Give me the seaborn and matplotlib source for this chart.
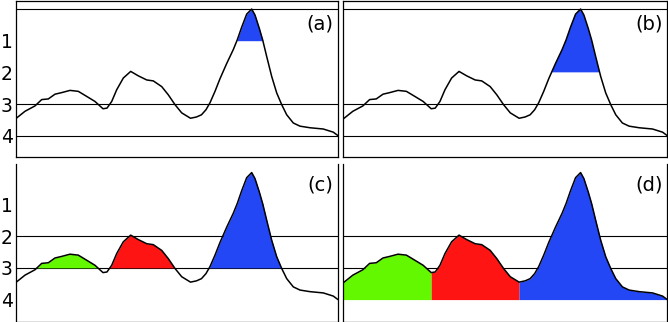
import numpy as np
import pandas as pd
import seaborn as sns
import matplotlib.pyplot as plt

# profile (x in panel pixels, y in level units, 0 = top)
pos = [0, 9.5, 19.5, 26.2, 32.8, 39.5, 46.2, 54.5, 62.8, 71.2, 79.5, 87.5,
       91.5, 96.2, 101.2, 107.8, 115.2, 122.8, 131.2, 137.8, 146.2, 152.8,
       159.5, 166.2, 175.0, 181.0, 186.0, 190.5, 194.5, 199.5, 204.5, 211.2,
       217.8, 221.8, 226.2, 231.2, 236.2, 239.5, 243.8, 247.2, 251.2, 256.2,
       261.2, 266.2, 271.2, 277.8, 284.5, 294.5, 307.8, 317.8, 322.5]
level = [3.47, 3.23, 3.06, 2.86, 2.84, 2.69, 2.64, 2.57, 2.60, 2.76, 2.92, 3.15,
         3.13, 2.92, 2.55, 2.18, 1.97, 2.11, 2.24, 2.27, 2.45, 2.71,
         3.02, 3.28, 3.45, 3.41, 3.34, 3.18, 2.96, 2.60, 2.20, 1.72,
         1.28, 0.97, 0.57, 0.16, 0.00, 0.19, 0.61, 0.98, 1.50, 2.13,
         2.65, 3.02, 3.34, 3.60, 3.70, 3.75, 3.79, 3.89, 4.00]

tick_levels = [1, 2, 3, 4]
basin_splits = [87.5, 175.0]          # the two minima between the hills
basin_colors = ['#63f700', '#ff1414', '#2447f5']

panels = ['(a)', '(b)', '(c)', '(d)']
thresholds = [1, 2, 3, 4]
hlines = [[0, 3, 4], [0, 3, 4], [2, 3], [2, 3]]

df = pd.DataFrame({'pos': pos, 'level': level})
x = df['pos'].to_numpy()
y = df['level'].to_numpy()

sns.set_style('white')
plt.rcParams['font.family'] = ['DejaVu Sans']

W, H = 668, 322
fig = plt.figure(figsize=(W / 100, H / 100), dpi=100)
boxes = [
    [15.5 / W, 1 - 157.5 / H, (338 - 15.5) / W, 157 / H],
    [343.3 / W, 1 - 157.5 / H, (667.3 - 343.3) / W, 157 / H],
    [15.5 / W, 0.5 / H, (338 - 15.5) / W, 157.5 / H],
    [343.3 / W, 0.5 / H, (667.3 - 343.3) / W, 157.5 / H],
]

edges = [x[0]] + basin_splits + [x[-1]]

for i, box in enumerate(boxes):
    ax = fig.add_axes(box)
    for lv in hlines[i]:
        ax.axhline(lv, color='black', lw=0.8, zorder=1)

    t = thresholds[i]
    if i < 2:
        # only the highest peak above the cut
        ax.fill_between(x, y, t, where=y <= t, interpolate=True,
                        color=basin_colors[2], lw=0, zorder=2)
    else:
        for k in range(3):
            seg = (x >= edges[k]) & (x <= edges[k + 1])
            if i == 2:
                ax.fill_between(x, y, t, where=seg & (y <= t), interpolate=True,
                                color=basin_colors[k], lw=0, zorder=2)
            else:
                ax.fill_between(x[seg], y[seg], t, color=basin_colors[k],
                                lw=0, zorder=2)

    sns.lineplot(data=df, x='pos', y='level', ax=ax, color='black',
                 lw=1.1, zorder=3)

    ax.set_xlim(x[0], x[-1])
    ax.set_ylim(4.69, -0.27)
    ax.set_xticks([])
    ax.set_xlabel('')
    ax.set_ylabel('')
    if i % 2 == 0:
        ax.set_yticks(tick_levels)
        ax.set_yticklabels([str(v) for v in tick_levels], fontsize=13.5)
    else:
        ax.set_yticks([])
    ax.tick_params(axis='y', length=0, pad=2, labelcolor='black')

    for s in ax.spines.values():
        s.set_color('black')
        s.set_linewidth(0.9)
    if i >= 2:
        ax.spines['top'].set_visible(False)

    ax.text(0.985, 0.85 if i < 2 else 0.865, panels[i], transform=ax.transAxes,
            ha='right', va='center', fontsize=14, color='black')

fig.savefig('out.png', dpi=100)
